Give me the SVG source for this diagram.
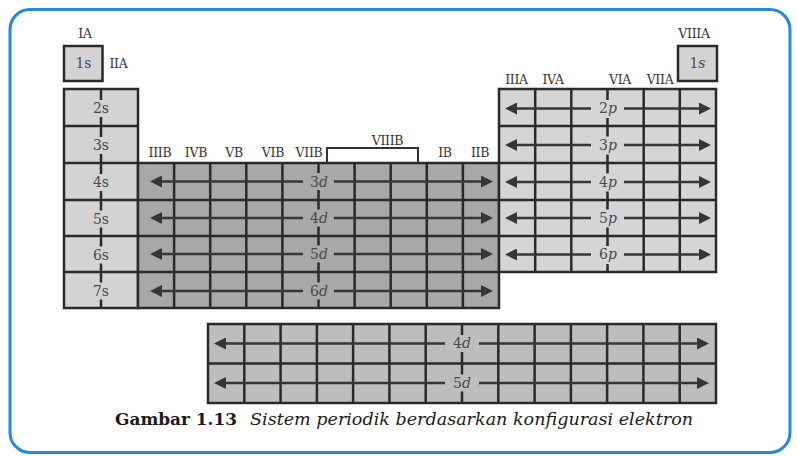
<svg xmlns="http://www.w3.org/2000/svg" width="797" height="456" viewBox="0 0 797 456">
  <defs>
    <marker id="head" markerUnits="userSpaceOnUse" markerWidth="12" markerHeight="12" refX="6" refY="6" orient="auto">
      <path d="M0,0 L12,6 L0,12 z" fill="#363636"/>
    </marker>
    <style>
      .grid { stroke: #2a2a2a; stroke-width: 2.5; fill: none; }
      .s { fill: #d3d3d3; }
      .d { fill: #a8a8a8; }
      .p { fill: #d5d5d5; }
      .f { fill: #bdbdbd; }
      .grp { font-family: "DejaVu Serif", "Liberation Serif", serif; font-size: 12.5px; fill: #333; text-anchor: middle; letter-spacing: -0.3px; }
      .lbl { font-family: "DejaVu Serif", "Liberation Serif", serif; font-size: 14px; fill: #4a4a4a; text-anchor: middle; }
      .it { font-style: italic; }
      .shaft { stroke: #363636; stroke-width: 2.5; fill: none; marker-end: url(#head); }
      .cap { font-family: "DejaVu Serif", "Liberation Serif", serif; font-size: 16px; fill: #1a1a1a; }
    </style>
  </defs>

  <!-- frame -->
  <rect x="10" y="9.5" width="780" height="443" rx="20" fill="#ffffff" stroke="#2588dc" stroke-width="3"/>

  <!-- hydrogen / helium 1s cells -->
  <g id="h-1s">
    <rect class="s" x="64" y="46" width="38.5" height="35"/>
    <rect class="grid" x="64" y="46" width="38.5" height="35"/>
    <text class="lbl" x="83.5" y="68">1s</text>
  </g>
  <g id="he-1s">
    <rect class="s" x="678" y="46" width="39" height="35"/>
    <rect class="grid" x="678" y="46" width="39" height="35"/>
    <text class="lbl" x="697.5" y="68">1<tspan class="it">s</tspan></text>
  </g>

  <!-- s block -->
  <g id="s-block">
    <rect class="s" x="64" y="89" width="74" height="219"/>
    <path class="grid" d="M101,89 V308 M64,126 H138 M64,163 H138 M64,200 H138 M64,236 H138 M64,272 H138"/>
    <rect class="grid" x="64" y="89" width="74" height="219"/>
    <g fill="#d3d3d3">
      <rect x="91" y="100" width="20" height="17"/>
      <rect x="91" y="137" width="20" height="17"/>
      <rect x="91" y="174" width="20" height="17"/>
      <rect x="91" y="210.5" width="20" height="17"/>
      <rect x="91" y="246.5" width="20" height="17"/>
      <rect x="91" y="282.5" width="20" height="17"/>
    </g>
    <text class="lbl" x="101" y="113">2s</text>
    <text class="lbl" x="101" y="150">3s</text>
    <text class="lbl" x="101" y="187">4s</text>
    <text class="lbl" x="101" y="223.5">5s</text>
    <text class="lbl" x="101" y="259.5">6s</text>
    <text class="lbl" x="101" y="295.5">7s</text>
  </g>

  <!-- d block -->
  <g id="d-block">
    <rect class="d" x="138" y="163" width="361" height="145"/>
    <path class="grid" d="M174.1,163 V308 M210.2,163 V308 M246.3,163 V308 M282.4,163 V308 M318.5,163 V308 M354.6,163 V308 M390.7,163 V308 M426.8,163 V308 M462.9,163 V308 M138,200 H499 M138,236 H499 M138,272 H499"/>
    <rect class="grid" x="138" y="163" width="361" height="145"/>
  </g>

  <!-- p block -->
  <g id="p-block">
    <rect class="p" x="499" y="89" width="217" height="183"/>
    <path class="grid" d="M535.2,89 V272 M571.3,89 V272 M607.5,89 V272 M643.7,89 V272 M679.8,89 V272 M499,126 H716 M499,163 H716 M499,200 H716 M499,236 H716"/>
    <rect class="grid" x="499" y="89" width="217" height="183"/>
  </g>

  <!-- f block -->
  <g id="f-block">
    <rect class="f" x="208" y="324" width="508" height="79"/>
    <path class="grid" d="M244.3,324 V403 M280.6,324 V403 M316.9,324 V403 M353.1,324 V403 M389.4,324 V403 M425.7,324 V403 M462,324 V403 M498.3,324 V403 M534.6,324 V403 M570.9,324 V403 M607.1,324 V403 M643.4,324 V403 M679.7,324 V403 M208,363.5 H716"/>
    <rect class="grid" x="208" y="324" width="508" height="79"/>
  </g>

  <!-- row arrows -->
  <g id="arrows">
    <!-- d rows -->
    <path class="shaft" d="M303,181.5 H156"/><path class="shaft" d="M334,181.5 H487"/>
    <path class="shaft" d="M303,218 H156"/><path class="shaft" d="M334,218 H487"/>
    <path class="shaft" d="M303,254 H156"/><path class="shaft" d="M334,254 H487"/>
    <path class="shaft" d="M303,291 H156"/><path class="shaft" d="M334,291 H487"/>
    <!-- p rows -->
    <path class="shaft" d="M591,108.5 H511"/><path class="shaft" d="M624,108.5 H705"/>
    <path class="shaft" d="M591,145 H511"/><path class="shaft" d="M624,145 H705"/>
    <path class="shaft" d="M591,182 H511"/><path class="shaft" d="M624,182 H705"/>
    <path class="shaft" d="M591,218 H511"/><path class="shaft" d="M624,218 H705"/>
    <path class="shaft" d="M591,254.5 H511"/><path class="shaft" d="M624,254.5 H705"/>
    <!-- f rows -->
    <path class="shaft" d="M445,343.5 H220"/><path class="shaft" d="M479,343.5 H703"/>
    <path class="shaft" d="M445,383 H220"/><path class="shaft" d="M479,383 H703"/>
  </g>

  <!-- orbital labels on the arrows -->
  <g id="d-labels">
    <g fill="#a8a8a8">
      <rect x="306" y="173" width="26" height="17"/>
      <rect x="306" y="209.5" width="26" height="17"/>
      <rect x="306" y="245.5" width="26" height="17"/>
      <rect x="306" y="282.5" width="26" height="17"/>
    </g>
    <text class="lbl" x="319" y="186.5">3<tspan class="it">d</tspan></text>
    <text class="lbl" x="319" y="223">4<tspan class="it">d</tspan></text>
    <text class="lbl" x="319" y="259">5<tspan class="it">d</tspan></text>
    <text class="lbl" x="319" y="296">6<tspan class="it">d</tspan></text>
  </g>
  <g id="p-labels">
    <g fill="#d5d5d5">
      <rect x="594" y="100" width="27" height="18"/>
      <rect x="594" y="136.5" width="27" height="18"/>
      <rect x="594" y="173.5" width="27" height="18"/>
      <rect x="594" y="209.5" width="27" height="18"/>
      <rect x="594" y="246" width="27" height="18"/>
    </g>
    <text class="lbl" x="608" y="113">2<tspan class="it">p</tspan></text>
    <text class="lbl" x="608" y="149.5">3<tspan class="it">p</tspan></text>
    <text class="lbl" x="608" y="186.5">4<tspan class="it">p</tspan></text>
    <text class="lbl" x="608" y="222.5">5<tspan class="it">p</tspan></text>
    <text class="lbl" x="608" y="259">6<tspan class="it">p</tspan></text>
  </g>
  <g id="f-labels">
    <g fill="#bdbdbd">
      <rect x="448" y="335" width="28" height="17"/>
      <rect x="448" y="374.5" width="28" height="17"/>
    </g>
    <text class="lbl" x="462" y="348">4<tspan class="it">d</tspan></text>
    <text class="lbl" x="462" y="387.5">5<tspan class="it">d</tspan></text>
  </g>

  <!-- VIIIB bracket -->
  <path id="viiib-bracket" d="M327,163 V148 H418 V163" fill="none" stroke="#333" stroke-width="2"/>

  <!-- group headings -->
  <g id="group-labels">
    <text class="grp" x="85" y="38">IA</text>
    <text class="grp" x="118.5" y="68">IIA</text>
    <text class="grp" x="694" y="38">VIIIA</text>
    <text class="grp" x="516.5" y="84">IIIA</text>
    <text class="grp" x="553" y="84">IVA</text>
    <text class="grp" x="620" y="84">VIA</text>
    <text class="grp" x="660" y="84">VIIA</text>
    <text class="grp" x="160" y="157">IIIB</text>
    <text class="grp" x="196" y="157">IVB</text>
    <text class="grp" x="234" y="157">VB</text>
    <text class="grp" x="273" y="157">VIB</text>
    <text class="grp" x="309" y="157">VIIB</text>
    <text class="grp" x="387.5" y="145">VIIIB</text>
    <text class="grp" x="445" y="157">IB</text>
    <text class="grp" x="480" y="157">IIB</text>
  </g>

  <!-- caption -->
  <g id="caption">
    <text class="cap" x="115" y="425" font-weight="bold" textLength="122" lengthAdjust="spacingAndGlyphs">Gambar 1.13</text>
    <text class="cap" x="250" y="425" font-style="italic" textLength="443" lengthAdjust="spacingAndGlyphs">Sistem periodik berdasarkan konfigurasi elektron</text>
  </g>
</svg>
